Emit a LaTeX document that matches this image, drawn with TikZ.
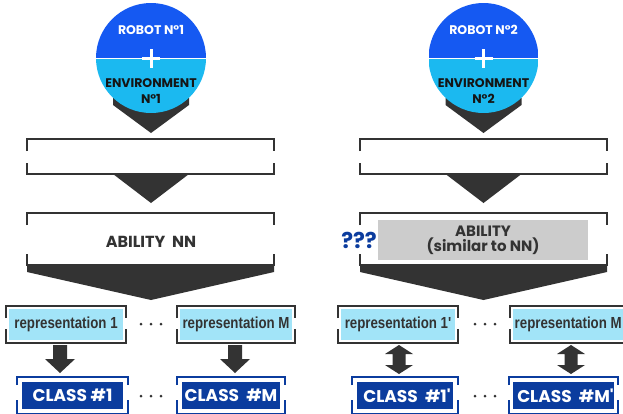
\documentclass[tikz,border=0pt]{standalone}
\usepackage{fontspec}
\usepackage{graphicx}
\newfontfamily\pop{Poppins}
\newfontfamily\lib{Liberation Sans}
\definecolor{blueA}{HTML}{1559F2}
\definecolor{cyanA}{HTML}{1BB9F0}
\definecolor{repfill}{HTML}{A2E4F8}
\definecolor{clsblue}{HTML}{0B3C9E}
\definecolor{dk}{HTML}{333333}
\definecolor{envtxt}{HTML}{151515}
\definecolor{grayfill}{HTML}{CCCCCC}
\tikzset{
  frame/.style={draw=dk, line width=2pt},
  cframe/.style={draw=clsblue, line width=1.5pt},
  splitcirc/.style={circle, minimum size=110pt, inner sep=0pt, path picture={
      \fill[blueA] (path picture bounding box.north west) rectangle (path picture bounding box.east);
      \fill[cyanA] (path picture bounding box.west) rectangle (path picture bounding box.south east);
      \draw[white, line width=1pt] (path picture bounding box.west) -- (path picture bounding box.east);}},
  ctext/.style={font=\pop\bfseries\fontsize{12.5}{13}\selectfont, inner sep=0pt},
  abtext/.style={font=\pop\bfseries\fontsize{16}{17}\selectfont, text=dk, inner sep=0pt},
  reptext/.style={font=\lib\bfseries\fontsize{16}{17}\selectfont, text=dk},
  repbox/.style={fill=repfill, inner sep=0pt, reptext},
  clsbox/.style={fill=clsblue, inner sep=0pt, text=white, font=\pop\bfseries\fontsize{17}{18}\selectfont},
}
\newcommand\brk[7]{% style, x1, y1, x2, y2, gap top, gap bottom
  \draw[#1] (#2,#6) -- (#2,#3) -- (#4,#3) -- (#4,#6);
  \draw[#1] (#2,#7) -- (#2,#5) -- (#4,#5) -- (#4,#7);}
\newcommand\blkdown[1]{\fill[dk] ({#1-7},345) -- ({#1+7},345) -- ({#1+7},359) -- ({#1+15},359) -- ({#1},373) -- ({#1-15},359) -- ({#1-7},359) -- cycle;}
\newcommand\blkboth[1]{\fill[dk] ({#1},345) -- ({#1+14},354) -- ({#1+6.5},354) -- ({#1+6.5},365) -- ({#1+14},365) -- ({#1},374) -- ({#1-14},365) -- ({#1-6.5},365) -- ({#1-6.5},354) -- ({#1-14},354) -- cycle;}
\newcommand\dotrow[2]{\fill[dk] ({#1-10},#2) circle[radius=1.5pt] (#1,#2) circle[radius=1.5pt] ({#1+10},#2) circle[radius=1.5pt];}
\newcommand\rs[1]{\scalebox{0.83}[1]{#1}}
\begin{document}
\begin{tikzpicture}[x=1pt, y=-1pt]
\clip (0,0) rectangle (623,413);
\fill[white] (0,0) rectangle (623,413);

% ===== left column =====
\fill[dk] (113,98) -- (189,98) -- (189,105) -- (151,133) -- (113,105) -- cycle;
\node[splitcirc] (c1) at (151,58) {};
\draw[white, line width=3pt] (151,49) -- (151,68) (142,58.5) -- (160,58.5);
\node[ctext, text=white, anchor=base] (rob1) at (151,34.5) {ROBOT N°1};
\node[ctext, text=envtxt, anchor=base] (env1) at (151,87.5) {ENVIRONMENT};
\node[ctext, text=envtxt, anchor=base] (envn1) at (151,103) {N°1};

\brk{frame}{27}{139}{274}{174}{151}{163}
\fill[dk] (113,174) -- (189,174) -- (151,203) -- cycle;
\brk{frame}{27}{213}{274}{265}{225}{254}
\node[abtext, anchor=base] (ab1) at (151,247) {ABILITY\ \ NN};
\fill[dk] (27,265) -- (274,265) -- (274,272) -- (151,300) -- (27,272) -- cycle;

\brk{frame}{6}{306}{126}{343}{318}{329}
\node[repbox, minimum width=114pt, minimum height=31pt] (r1) at (66,324.5) {\rs{representation 1}};
\brk{frame}{177}{306}{295}{343}{318}{329}
\node[repbox, minimum width=112pt, minimum height=31pt] (rM) at (236,324.5) {\rs{representation M}};
\dotrow{151}{324}

\blkdown{60}
\blkdown{235}

\brk{cframe}{17}{377}{128}{414}{385}{400}
\node[clsbox, minimum width=101pt, minimum height=27pt] (k1) at (72.5,395.5) {CLASS \#1};
\brk{cframe}{177}{377}{285}{414}{385}{400}
\node[clsbox, minimum width=98pt, minimum height=27pt] (kM) at (231,395.5) {CLASS\ \ \#M};
\dotrow{151}{396}

% ===== right column =====
\fill[dk] (445.5,98) -- (521.5,98) -- (521.5,105) -- (483.5,133) -- (445.5,105) -- cycle;
\node[splitcirc] (c2) at (483.5,58) {};
\draw[white, line width=3pt] (483.5,49) -- (483.5,68) (474.5,58.5) -- (492.5,58.5);
\node[ctext, text=white, anchor=base] (rob2) at (483.5,34.5) {ROBOT N°2};
\node[ctext, text=envtxt, anchor=base] (env2) at (483.5,87.5) {ENVIRONMENT};
\node[ctext, text=envtxt, anchor=base] (envn2) at (483.5,103) {N°2};

\brk{frame}{360}{139}{607}{174}{151}{163}
\fill[dk] (445.5,174) -- (521.5,174) -- (483.5,203) -- cycle;
\brk{frame}{360}{213}{607}{265}{225}{254}
\node[fill=grayfill, minimum width=210pt, minimum height=40pt, inner sep=0pt] (g2) at (483,240) {};
\node[abtext, font=\pop\bfseries\fontsize{15}{16}\selectfont, anchor=base] (ab2) at (483,236) {ABILITY};
\node[abtext, font=\pop\bfseries\fontsize{15}{16}\selectfont, anchor=base] (ab2s) at (483,251) {(similar to NN)};
\node[font=\pop\bfseries\fontsize{22}{22}\selectfont, text=clsblue, inner sep=0pt, anchor=base] (q) at (359,248) {???};
\fill[dk] (360,265) -- (607,265) -- (607,272) -- (483.5,300) -- (360,272) -- cycle;

\brk{frame}{338}{306}{458}{343}{318}{329}
\node[repbox, minimum width=114pt, minimum height=31pt] (r1p) at (398,324.5) {\rs{representation 1'}};
\brk{frame}{510}{306}{640}{343}{318}{329}
\fill[repfill] (513,309) rectangle (637,340);
\node[reptext, anchor=west, inner sep=0pt] (rMp) at (514.5,324.5) {\rs{representation M}};
\dotrow{485}{324}

\blkboth{399}
\blkboth{571}

\brk{cframe}{352}{377}{458}{414}{385}{400}
\node[clsbox, minimum width=96pt, minimum height=27pt] (k1p) at (405,395.5) {\hspace{4pt}CLASS\ \ \#1'};
\brk{cframe}{509}{377}{618}{414}{385}{400}
\node[clsbox, minimum width=99pt, minimum height=27pt] (kMp) at (563.5,395.5) {\hspace{4pt}CLASS\ \ \#M'};
\dotrow{485}{396}
\end{tikzpicture}
\end{document}
